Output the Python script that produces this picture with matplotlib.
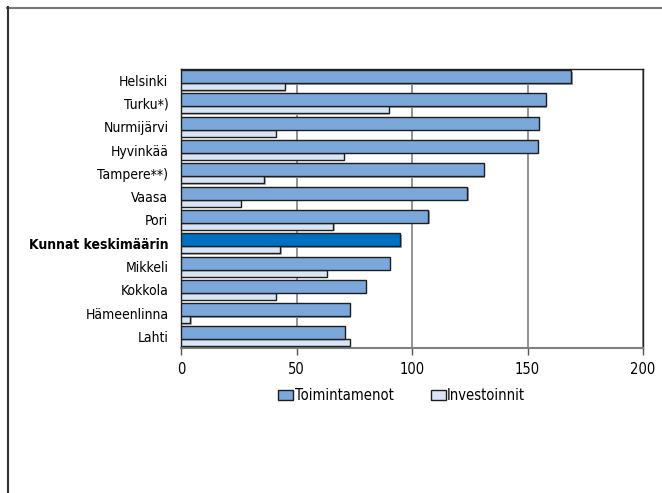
import numpy as np
import matplotlib
matplotlib.use("Agg")
import matplotlib.pyplot as plt
from matplotlib.patches import Patch
from matplotlib.lines import Line2D

plt.rcParams['font.family'] = ['DejaVu Sans']
plt.rcParams['font.stretch'] = 'condensed'

cities = ['Helsinki', 'Turku*)', 'Nurmijärvi', 'Hyvinkää', 'Tampere**)', 'Vaasa',
          'Pori', 'Kunnat keskimäärin', 'Mikkeli', 'Kokkola', 'Hämeenlinna', 'Lahti']
toimintamenot = [169, 158, 155, 154.5, 131, 124, 107, 95, 90.5, 80, 73, 71]
investoinnit = [45, 90, 41, 70.5, 36, 26, 66, 43, 63, 41, 4, 73]
highlight = 'Kunnat keskimäärin'

c_main = '#7BA7DA'
c_inv = '#D9E5F5'
c_high = '#0070C0'
c_edge = '#1E1E1E'

fig = plt.figure(figsize=(6.62, 4.93), dpi=100)
ax = fig.add_axes([0.2734, 0.294, 0.698, 0.567])

y = np.arange(len(cities))
main_off, main_h = -0.15, 0.56
inv_off, inv_h = 0.28, 0.30

main_colors = [c_high if c == highlight else c_main for c in cities]

# varjot
ax.barh(y + inv_off + 0.06, investoinnit, height=inv_h, left=0.6, color='#B8B8B8', zorder=2)
ax.barh(y + main_off + 0.06, toimintamenot, height=main_h, left=0.6, color='#A0A0A0', zorder=2)

ax.barh(y + inv_off, investoinnit, height=inv_h, color=c_inv,
        edgecolor=c_edge, linewidth=1.0, zorder=3)
ax.barh(y + main_off, toimintamenot, height=main_h, color=main_colors,
        edgecolor=c_edge, linewidth=1.0, zorder=4)

ax.set_xlim(0, 200)
ax.set_ylim(len(cities) - 0.5, -0.5)
ax.set_xticks([0, 50, 100, 150, 200])
ax.set_yticks(y)
ax.set_yticklabels(cities)
for lab in ax.get_yticklabels():
    if lab.get_text() == highlight:
        lab.set_fontweight('bold')

ax.tick_params(axis='y', length=0, pad=9, labelsize=10)
ax.tick_params(axis='x', length=5, width=1, color='#555555', labelsize=10.5, pad=5)
ax.grid(axis='x', color='#808080', linewidth=1.2, zorder=1)
ax.set_axisbelow(True)
for s in ax.spines.values():
    s.set_color('#222222')
    s.set_linewidth(1.0)
ax.spines['bottom'].set_color('#808080')
ax.spines['bottom'].set_linewidth(1.5)

handles = [Patch(facecolor=c_main, edgecolor=c_edge, label='Toimintamenot'),
           Patch(facecolor=c_inv, edgecolor=c_edge, label='Investoinnit')]
fig.legend(handles=handles, loc='center', bbox_to_anchor=(0.607, 0.197), ncol=2,
           frameon=False, fontsize=10.5, handlelength=1.0, handleheight=0.7,
           handletextpad=0.1, columnspacing=2.6)

# kehys (ylä- ja vasen reuna)
fig.add_artist(Line2D([7 / 662, 1], [1 - 7.5 / 493, 1 - 7.5 / 493], color='#777777', linewidth=1.5, transform=fig.transFigure))
fig.add_artist(Line2D([7.5 / 662, 7.5 / 662], [0, 1 - 7 / 493], color='#333333', linewidth=1.5, transform=fig.transFigure))

fig.savefig('out.png', dpi=100)
